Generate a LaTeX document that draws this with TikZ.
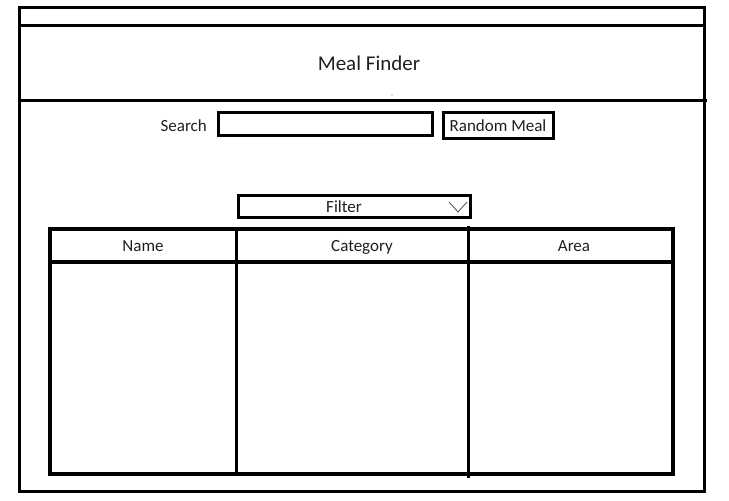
\documentclass[tikz,border=0pt]{standalone}
\usepackage{fontspec}
\setmainfont{Carlito}
\begin{document}
\begin{tikzpicture}[x=1pt,y=-1pt,
  frame/.style={draw=black,line width=3pt},
  boxnode/.style={draw=black,line width=3pt,inner sep=0pt,outer sep=0pt},
  lbl/.style={inner sep=0pt,anchor=base,font=\fontsize{17}{20}\selectfont,text=black!88},
  ttl/.style={inner sep=0pt,anchor=base,font=\fontsize{21}{24}\selectfont,text=black!88}]
\useasboundingbox (0,0) rectangle (729,501);
% outer window frame
\coordinate (ftl) at (19,7);
\coordinate (fbr) at (704,491);
\draw[frame] (ftl) rectangle (fbr);
\coordinate (l1a) at (19,25); \coordinate (l1b) at (704,25);
\coordinate (l2a) at (19,100); \coordinate (l2b) at (707,100);
\draw[frame] (l1a) -- (l1b);
\draw[frame] (l2a) -- (l2b);
% title
\node[ttl] (title) at (369,70) {Meal Finder};
\fill[black!60] (392,95) circle (0.6pt);
% search row
\node[lbl,anchor=base east] (searchlbl) at (207,131) {Search};
\node[boxnode,minimum width=214pt,minimum height=23pt] (searchbox) at (325,123.5) {};
\node[boxnode,minimum width=110pt,minimum height=26pt] (random) at (498,125) {};
\node[lbl] (randomlbl) at (498,131) {Random Meal};
% filter
\node[boxnode,minimum width=232pt,minimum height=22pt] (filter) at (354,206) {};
\node[lbl] (filterlbl) at (344,212) {Filter};
\coordinate (cva) at (449,202); \coordinate (cvb) at (458,212); \coordinate (cvc) at (467,202);
\draw[black!70,line width=0.8pt] (cva) -- (cvb) -- (cvc);
% table
\coordinate (ttl) at (50,229);
\coordinate (tbr) at (673,474);
\draw[line width=3.5pt] (ttl) rectangle (tbr);
\coordinate (h1) at (50,262); \coordinate (h2) at (673,262);
\draw[line width=3.5pt] (h1) -- (h2);
\coordinate (c1a) at (236,229); \coordinate (c1b) at (236,474);
\coordinate (c2a) at (468,226); \coordinate (c2b) at (468,478);
\draw[line width=3pt] (c1a) -- (c1b);
\draw[line width=3pt] (c2a) -- (c2b);
\node[lbl] (name) at (143,251) {Name};
\node[lbl] (category) at (362,251) {Category};
\node[lbl] (area) at (574,251) {Area};
\end{tikzpicture}
\end{document}
